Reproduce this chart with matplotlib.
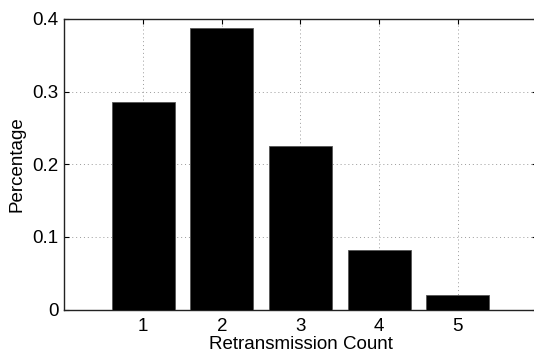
import matplotlib
matplotlib.use("Agg")
import matplotlib.pyplot as plt

counts = [1, 2, 3, 4, 5]
percentages = [0.286, 0.388, 0.225, 0.082, 0.020]
y_ticks = [0, 0.1, 0.2, 0.3, 0.4]
y_tick_labels = ["0", "0.1", "0.2", "0.3", "0.4"]

plt.rcParams["font.family"] = ["Liberation Sans", "DejaVu Sans"]

fig = plt.figure(figsize=(5.34, 3.53), dpi=100)
ax = fig.add_axes([0.1204, 0.1232, 0.8846, 0.823])

ax.bar(counts, percentages, width=0.8, color="black", edgecolor="#555555",
       linewidth=0.6, zorder=3)

ax.set_xlim(0, 6)
ax.set_ylim(0, 0.4)
ax.set_xticks(counts)
ax.set_yticks(y_ticks)
ax.set_yticklabels(y_tick_labels)

ax.grid(True, linestyle=(0, (1, 3)), color="#999999", linewidth=0.7, zorder=0)
ax.tick_params(direction="in", length=3.5, width=0.8, labelsize=13.5,
               top=True, right=True, pad=6, colors="black")
ax.tick_params(axis="y", pad=4)
for s in ax.spines.values():
    s.set_linewidth(1.0)
    s.set_color("#222222")

ax.set_xlabel("Retransmission Count", fontsize=13.5, labelpad=1)
ax.set_ylabel("Percentage", fontsize=13.5, labelpad=5)

fig.savefig("out.png", dpi=100)
